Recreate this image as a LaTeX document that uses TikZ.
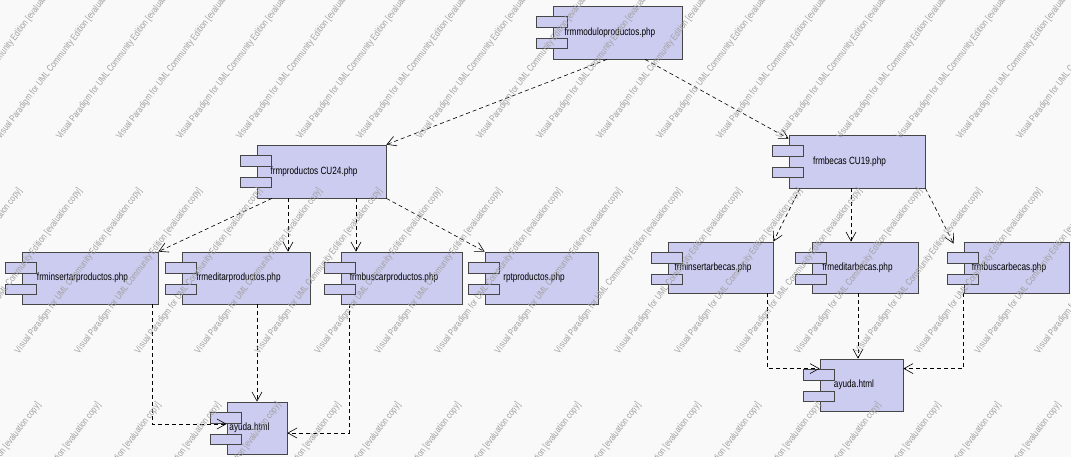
\documentclass[tikz,border=0pt]{standalone}
\usepackage{fontspec}
\setmainfont{Liberation Sans}
\newfontfamily\vpfont[FakeStretch=0.78]{Liberation Sans}
\usetikzlibrary{arrows.meta}
\definecolor{compfill}{RGB}{204,204,240}
\definecolor{compline}{RGB}{70,70,70}
\definecolor{wmgray}{RGB}{160,160,160}
\definecolor{paper}{RGB}{249,249,249}

\begin{document}
\begin{tikzpicture}[x=1pt,y=-1pt, font=\vpfont\fontsize{10.5}{12}\selectfont,
  comp/.style={draw=compline,fill=compfill,line width=0.8pt,inner sep=0pt,minimum height=53pt,execute at end node={\hspace*{15pt}}},
  tab/.style={draw=compline,fill=compfill,line width=0.8pt},
  dep/.style={line width=0.6pt,dash pattern=on 4pt off 3pt,-{Straight Barb[length=9pt,width=10pt,line width=0.6pt]}},
  wm/.style={text=wmgray,rotate=53,inner sep=0pt,font=\vpfont\fontsize{9.5}{10}\selectfont}]
  \fill[paper] (0,0) rectangle (1071,457);
  \useasboundingbox (0,0) rectangle (1071,457);
  % components
  \node[comp,minimum width=129pt] (mod) at (617.5,32.5) {frmmoduloproductos.php};
  \node[comp,minimum width=129pt] (prod) at (321.5,171.5) {frmproductos CU24.php};
  \node[comp,minimum width=136pt] (becas) at (857,161.5) {frmbecas CU19.php};
  \node[comp,minimum width=136pt,minimum height=52pt] (insp) at (90,278) {frminsertarproductos.php};
  \node[comp,minimum width=128pt,minimum height=52pt] (edp) at (246,278) {frmeditarproductos.php};
  \node[comp,minimum width=121pt,minimum height=52pt] (bup) at (401.5,278) {frmbuscarproductos.php};
  \node[comp,minimum width=113pt,minimum height=52pt] (rpt) at (541.5,278) {rptproductos.php};
  \node[comp,minimum width=105pt,minimum height=51pt] (insb) at (720.5,267.5) {frminsertarbecas.php};
  \node[comp,minimum width=106pt,minimum height=51pt] (edb) at (865,267.5) {frmeditarbecas.php};
  \node[comp,minimum width=105pt,minimum height=51pt] (bub) at (1016.5,267.5) {frmbuscarbecas.php};
  \node[comp,minimum width=60pt,minimum height=52pt] (ayp) at (257,428) {ayuda.html};
  \node[comp,minimum width=83pt,minimum height=52pt] (ayb) at (861.5,385) {ayuda.html};
  \foreach \n in {mod,prod,becas,insp,edp,bup,rpt,insb,edb,bub,ayp,ayb}{
    \draw[tab] ([shift={(-16,11)}]\n.north west) rectangle ++(31,10.5);
    \draw[tab] ([shift={(-16,32.5)}]\n.north west) rectangle ++(31,10.5);
  }
  % dependencies
  \draw[dep] ([shift={(-10.5,0)}]mod.south) -- (prod.north east);
  \draw[dep] ([shift={(27.5,0)}]mod.south) -- ([shift={(0,4)}]becas.north west);
  \draw[dep] ([shift={(-49.5,0)}]prod.south) -- (insp.north east);
  \draw[dep] ([shift={(-33.5,0)}]prod.south) -- ([shift={(42,0)}]edp.north);
  \draw[dep] ([shift={(34.5,0)}]prod.south) -- ([shift={(-45.5,0)}]bup.north);
  \draw[dep] (prod.south east) -- (rpt.north west);
  \draw[dep] ([shift={(-57,0)}]becas.south) -- (insb.north east);
  \draw[dep] ([shift={(-6,0)}]becas.south) -- ([shift={(-14,0)}]edb.north);
  \draw[dep] (becas.south east) -- ([shift={(-10,2)}]bub.north west);
  \draw[dep] ([shift={(62,0)}]insp.south) |- ([shift={(0,-4)}]ayp.west);
  \draw[dep] ([shift={(11,0)}]edp.south) -- (ayp.north);
  \draw[dep] ([shift={(-52.5,0)}]bup.south) |- ([shift={(0,5)}]ayp.east);
  \draw[dep] ([shift={(46.5,0)}]insb.south) |- ([shift={(0,10)}]ayb.north west);
  \draw[dep] ([shift={(-7,0)}]edb.south) -- ([shift={(-3.5,0)}]ayb.north);
  \draw[dep] ([shift={(-53,0)}]bub.south) |- ([shift={(0,10)}]ayb.north east);
  % watermark
  \begin{scope}
    \clip (0,0) rectangle (1071,457);
    \foreach \m in {-3,...,1}\foreach \n in {-16,...,17}
      \node[wm] (wm\m\n) at ({660+161.3*\m+60*\n},{57-214.1*\m}) {Visual Paradigm for UML Community Edition [evaluation copy]};
  \end{scope}
\end{tikzpicture}
\end{document}
